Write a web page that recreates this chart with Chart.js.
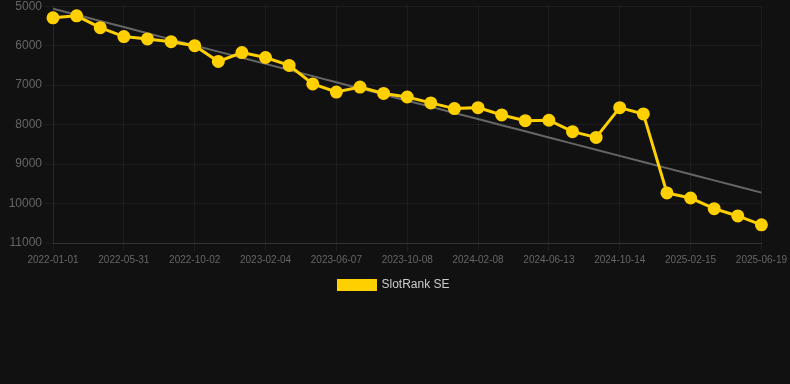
<!DOCTYPE html>
<html>
<head>
<meta charset="utf-8">
<script src="https://cdn.jsdelivr.net/npm/chart.js@4"></script>
<style>
  html, body { margin: 0; padding: 0; background: #111111; overflow: hidden; }
  #wrap { width: 790px; height: 305px; margin-top: -4px; position: relative; }
</style>
</head>
<body>
<div id="wrap"><canvas id="chart"></canvas></div>
<script>
// dates on the x axis (every 3rd one is shown)
const dates = [
  '2022-01-01', '2022-02-20', '2022-04-11', '2022-05-31', '2022-07-11', '2022-08-22',
  '2022-10-02', '2022-11-12', '2022-12-24', '2023-02-04', '2023-03-18', '2023-04-27',
  '2023-06-07', '2023-07-18', '2023-08-28', '2023-10-08', '2023-11-18', '2023-12-29',
  '2024-02-08', '2024-03-20', '2024-05-02', '2024-06-13', '2024-07-24', '2024-09-03',
  '2024-10-14', '2024-11-24', '2025-01-05', '2025-02-15', '2025-03-28', '2025-05-09',
  '2025-06-19'
];

// rank values
const rankSE = [
  5295, 5245, 5545, 5770, 5830, 5900, 6000, 6400, 6175, 6300, 6500,
  6970, 7175, 7050, 7210, 7300, 7450, 7595, 7570, 7755, 7900, 7890,
  8180, 8325, 7570, 7730, 9730, 9860, 10130, 10315, 10540
];

const yTicks = [5000, 6000, 7000, 8000, 9000, 10000, 11000];

// least squares trend over the series
function trendLine(vals) {
  const n = vals.length;
  const mx = (n - 1) / 2;
  const my = vals.reduce((a, b) => a + b, 0) / n;
  let num = 0, den = 0;
  vals.forEach((v, i) => { num += (i - mx) * (v - my); den += (i - mx) * (i - mx); });
  const slope = num / den;
  return vals.map((v, i) => my + slope * (i - mx));
}

const font = "Arial, 'Liberation Sans', Helvetica, sans-serif";
const gridColor = 'rgba(255,255,255,0.05)';

new Chart(document.getElementById('chart').getContext('2d'), {
  type: 'line',
  data: {
    labels: dates,
    datasets: [
      {
        label: 'SlotRank SE',
        data: rankSE,
        borderColor: '#ffd000',
        backgroundColor: '#ffd000',
        borderWidth: 3,
        pointRadius: 5,
        pointHoverRadius: 5,
        tension: 0
      },
      {
        label: 'trend',
        data: trendLine(rankSE),
        borderColor: '#666666',
        borderWidth: 2,
        pointRadius: 0,
        tension: 0
      }
    ]
  },
  options: {
    responsive: true,
    maintainAspectRatio: false,
    animation: false,
    layout: { padding: { left: 0, right: 2 } },
    plugins: {
      legend: {
        position: 'bottom',
        labels: {
          color: '#cccccc',
          font: { family: font, size: 12 },
          boxWidth: 37,
          boxHeight: 9,
          filter: (item) => item.text !== 'trend'
        }
      },
      tooltip: { enabled: false }
    },
    scales: {
      x: {
        grid: {
          color: (c) => (c.index % 3 === 0 ? gridColor : 'transparent'),
          tickColor: (c) => (c.index % 3 === 0 ? gridColor : 'transparent')
        },
        border: { color: 'rgba(255,255,255,0.1)' },
        ticks: {
          color: '#666666',
          font: { family: font, size: 10 },
          autoSkip: false,
          maxRotation: 0,
          callback: function (val, i) { return i % 3 === 0 ? this.getLabelForValue(val) : ''; }
        }
      },
      y: {
        reverse: true,
        min: yTicks[0],
        max: yTicks[yTicks.length - 1],
        grid: { color: gridColor, tickColor: gridColor },
        border: { color: gridColor },
        afterBuildTicks: (axis) => { axis.ticks = yTicks.map(v => ({ value: v })); },
        afterFit: (axis) => { axis.width = 53; },
        ticks: {
          color: '#666666',
          font: { family: font, size: 12 },
          callback: (v) => String(v)
        }
      }
    }
  }
});
</script>
</body>
</html>
